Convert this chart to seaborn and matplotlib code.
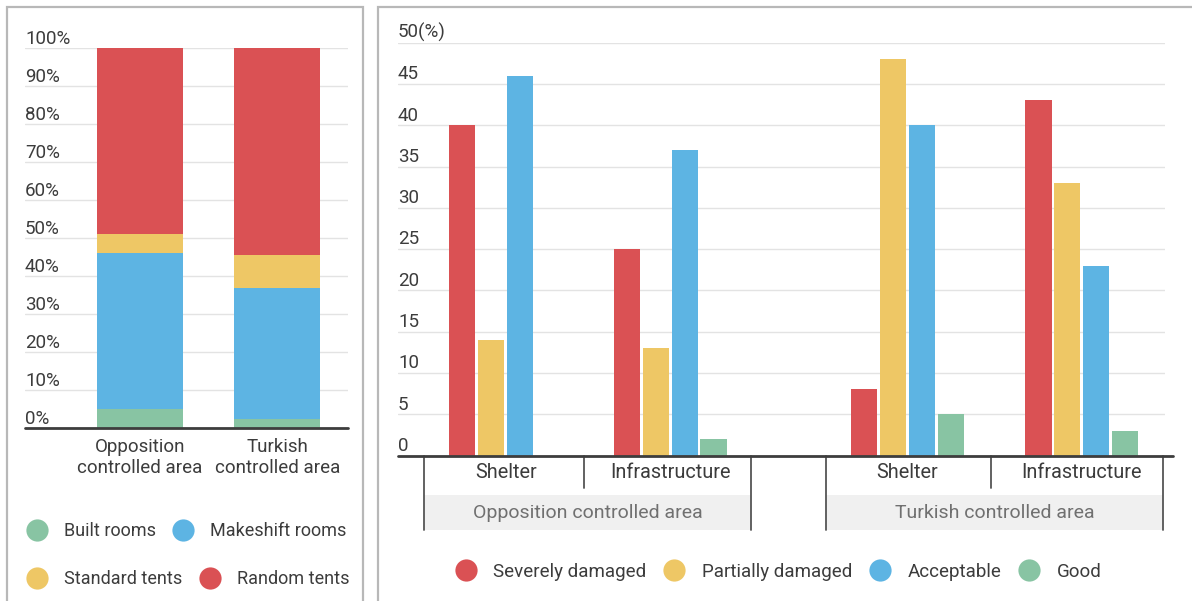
import matplotlib
matplotlib.use("Agg")
import matplotlib.pyplot as plt
import matplotlib.transforms as mtransforms
from matplotlib.lines import Line2D
from matplotlib.patches import Rectangle
import numpy as np
import pandas as pd
import seaborn as sns

# ---- Housing type by area (stacked, %) ----
areas = ["Opposition\ncontrolled area", "Turkish\ncontrolled area"]
built_rooms = [5, 2.5]
makeshift_rooms = [41, 34.5]
standard_tents = [5, 8.5]
random_tents = [49, 54.5]
housing_labels = ["Built rooms", "Makeshift rooms", "Standard tents", "Random tents"]

# ---- Condition of shelter and infrastructure (%) ----
regions = ["Opposition controlled area", "Opposition controlled area",
           "Turkish controlled area", "Turkish controlled area"]
sectors = ["Shelter", "Infrastructure", "Shelter", "Infrastructure"]
severely_damaged = [40, 25, 8, 43]
partially_damaged = [14, 13, 48, 33]
acceptable = [46, 37, 40, 23]
good = [0, 2, 5, 3]
condition_labels = ["Severely damaged", "Partially damaged", "Acceptable", "Good"]

RED, YELLOW, BLUE, GREEN = "#DA5154", "#EEC765", "#5DB4E3", "#88C4A3"
TEXT = "#3c3c3c"
GRID = "#E3E3E3"
BORDER = "#B8B8B8"
FS = 13.5

sns.set_theme(style="white")
plt.rcParams["font.family"] = ["Roboto", "DejaVu Sans"]

W, H = 1192, 601
fig = plt.figure(figsize=(W / 100, H / 100), dpi=100)
fig.patch.set_facecolor("white")


def fx(px):
    return px / W


def fy(py):
    return 1 - py / H


# panel frames
fig.add_artist(Rectangle((fx(7.5), -0.1), fx(363 - 7.5), fy(7) + 0.1,
                         transform=fig.transFigure, fill=False,
                         edgecolor=BORDER, linewidth=1.6, clip_on=False))
fig.add_artist(Rectangle((fx(378), -0.1), 1.0, fy(7) + 0.1,
                         transform=fig.transFigure, fill=False,
                         edgecolor=BORDER, linewidth=1.6, clip_on=False))

# ================= left: stacked bars =================
ax1 = fig.add_axes([fx(25), fy(428.3), fx(348 - 25), (428.3 - 48.3) / H])
layers = [built_rooms, makeshift_rooms, standard_tents, random_tents]
colors_left = [GREEN, BLUE, YELLOW, RED]
cum = np.cumsum(np.array(layers, dtype=float), axis=0)
# draw from the tallest cumulative layer down so lower segments sit on top
for i in range(len(layers) - 1, -1, -1):
    df = pd.DataFrame({"area": areas, "value": cum[i]})
    sns.barplot(data=df, x="area", y="value", order=areas, color=colors_left[i],
                width=0.625, saturation=1, errorbar=None, ax=ax1,
                linewidth=0, zorder=3)

ax1.set_ylim(0, 100)
ax1.set_xlim(-0.836, 1.513)
ax1.set_yticks(np.arange(0, 101, 10))
ax1.set_yticklabels([])
ax1.grid(axis="y", color=GRID, linewidth=1.0, zorder=0)
ax1.set_axisbelow(True)
ax1.tick_params(axis="both", length=0)
ax1.tick_params(axis="x", pad=7, labelsize=FS, labelcolor=TEXT)
for lab in ax1.get_xticklabels():
    lab.set_linespacing(1.2)
ax1.set_xlabel("")
ax1.set_ylabel("")
for s in ax1.spines.values():
    s.set_visible(False)
ax1.axhline(0, color="#3d3d3d", linewidth=2.0, zorder=5, clip_on=False)
blend1 = mtransforms.blended_transform_factory(ax1.transAxes, ax1.transData)
for v in range(0, 101, 10):
    ax1.annotate(f"{v}%", xy=(0, v), xycoords=blend1, xytext=(0, 0.5),
                 textcoords="offset points", ha="left", va="bottom",
                 fontsize=FS, color=TEXT)

hl = [Line2D([], [], marker="o", linestyle="", markersize=16,
             markerfacecolor=c, markeredgewidth=0) for c in colors_left]
leg_kw = dict(frameon=False, fontsize=13, handlelength=1.3, handletextpad=0.85,
              columnspacing=0.85, borderpad=0, borderaxespad=0, labelcolor=TEXT,
              loc="center left", ncol=2)
lg1 = fig.legend(hl[:2], housing_labels[:2], bbox_to_anchor=(fx(25.5), fy(531)), **leg_kw)
lg2 = fig.legend(hl[2:], housing_labels[2:], bbox_to_anchor=(fx(25.5), fy(579)), **leg_kw)

# ================= right: grouped bars =================
ax2 = fig.add_axes([fx(398), fy(455.5), fx(1165 - 398), (455.5 - 42.7) / H])
slot_pos = [0.0, 0.97, 2.37, 3.4]   # horizontal placement of the four sector groups
long = pd.DataFrame({
    "pos": np.repeat(slot_pos, 4),
    "condition": condition_labels * 4,
    "value": np.ravel(np.column_stack([severely_damaged, partially_damaged,
                                       acceptable, good])),
})
sns.barplot(data=long, x="pos", y="value", hue="condition",
            hue_order=condition_labels, palette=[RED, YELLOW, BLUE, GREEN],
            native_scale=True, width=0.705, gap=0.1, saturation=1,
            errorbar=None, legend=False, ax=ax2, linewidth=0, zorder=3)
ax2.set_xlim(-0.635, 3.89)
ax2.set_ylim(0, 50)
ax2.set_yticks(np.arange(0, 51, 5))
ax2.set_yticklabels([])
ax2.set_xticks([])
ax2.grid(axis="y", color=GRID, linewidth=1.0, zorder=0)
ax2.set_axisbelow(True)
ax2.tick_params(axis="both", length=0)
ax2.set_xlabel("")
ax2.set_ylabel("")
for s in ax2.spines.values():
    s.set_visible(False)
ax2.plot([0, 1.01], [0, 0], transform=ax2.get_yaxis_transform(which="grid"),
         color="#3d3d3d", linewidth=2.0, zorder=5, clip_on=False)
blend2 = mtransforms.blended_transform_factory(ax2.transAxes, ax2.transData)
for v in range(0, 51, 5):
    ax2.annotate("50(%)" if v == 50 else f"{v}", xy=(0, v), xycoords=blend2,
                 xytext=(0, 0.5), textcoords="offset points", ha="left", va="bottom",
                 fontsize=FS, color=TEXT)

# two-level category axis below the bars
bx = mtransforms.blended_transform_factory(ax2.transData, ax2.transAxes)
ax_h = 455.5 - 42.7


def ay(py):
    return (455.5 - py) / ax_h


line_kw = dict(color="#555555", linewidth=1.3, transform=bx, clip_on=False)
for k, p in enumerate(slot_pos):
    ax2.text(p, ay(473), sectors[k], transform=bx, ha="center", va="center",
             fontsize=14.3, color=TEXT)
for g in range(2):
    left = slot_pos[2 * g] - 0.48
    right = slot_pos[2 * g + 1] + 0.48
    mid = (slot_pos[2 * g] + slot_pos[2 * g + 1]) / 2 - 0.02
    ax2.add_patch(Rectangle((left, ay(530)), right - left, ay(495) - ay(530),
                            transform=bx, facecolor="#F0F0F0", edgecolor="none",
                            clip_on=False, zorder=1))
    ax2.plot([left, left], [0, ay(530)], **line_kw)
    ax2.plot([right, right], [0, ay(530)], **line_kw)
    ax2.plot([mid, mid], [0, ay(488)], **line_kw)
    ax2.text((left + right) / 2, ay(513), regions[2 * g], transform=bx,
             ha="center", va="center", fontsize=14, color="#707070")

hr = [Line2D([], [], marker="o", linestyle="", markersize=16,
             markerfacecolor=c, markeredgewidth=0) for c in [RED, YELLOW, BLUE, GREEN]]
fig.legend(hr, condition_labels, frameon=False, fontsize=FS, handlelength=1.25,
           handletextpad=0.85, columnspacing=0.85, borderpad=0, borderaxespad=0,
           labelcolor=TEXT, loc="center left", ncol=4,
           bbox_to_anchor=(fx(454), fy(572)))

fig.savefig("out.png", dpi=100, facecolor="white")
